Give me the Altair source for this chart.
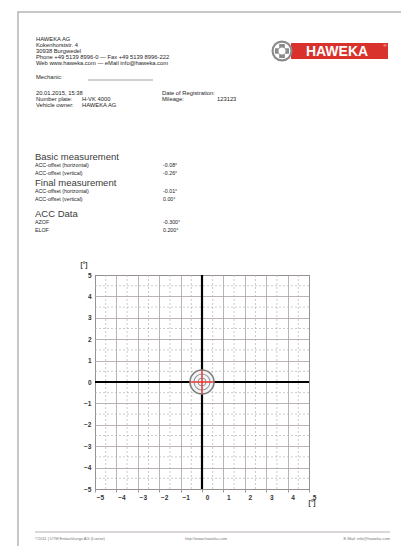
import altair as alt
import pandas as pd

# ---------------- data ----------------
tick_values = [-5, -4, -3, -2, -1, 0, 1, 2, 3, 4, 5]
half_values = [-4.5, -3.5, -2.5, -1.5, -0.5, 0.5, 1.5, 2.5, 3.5, 4.5]
target_x = [0.0]
target_y = [0.0]
cross_extent = [-0.55, 0.55]

company_lines = ["HAWEKA AG", "Kokenhorststr. 4", "30938 Burgwedel",
                 "Phone +49 5139 8996-0 \u2014 Fax +49 5139 8996-222",
                 "Web www.haweka.com \u2014 eMail info@haweka.com"]
vehicle_labels = ["20.01.2015, 15:38", "Number plate:", "Vehicle owner:"]
vehicle_values = ["", "H-VK 4000", "HAWEKA AG"]
reg_labels = ["Date of Registration:", "Mileage:"]
reg_values = ["", "123123"]
sections = ["Basic measurement", "Final measurement", "ACC Data"]
offset_labels = ["ACC-offset (horizontal)", "ACC-offset (vertical)"]
basic_values = ["-0.08\u00b0", "-0.26\u00b0"]
final_values = ["-0.01\u00b0", "0.00\u00b0"]
acc_labels = ["AZOF", "ELOF"]
acc_values = ["-0.300\u00b0", "0.200\u00b0"]
footer_texts = ["\u00a92011 | UTM Entwicklungs AG (Lizenz)", "http://www.haweka.com", "E-Mail: info@haweka.com"]

OX, OY = 95, 275  # plot origin on the page
FONT = "Liberation Sans"


def txt(s, x, y, size=5.5, color="#333333", weight="normal", align="left"):
    return alt.Chart(pd.DataFrame({"t": [s]})).mark_text(
        fontSize=size, color=color, fontWeight=weight, align=align,
        baseline="middle", font=FONT
    ).encode(x=alt.value(x - OX), y=alt.value(y - OY), text="t:N")


def deco_rect(x, y, x2, y2, **kw):
    return alt.Chart(pd.DataFrame({"a": [0]})).mark_rect(**kw).encode(
        x=alt.value(x - OX), x2=alt.value(x2 - OX),
        y=alt.value(y - OY), y2=alt.value(y2 - OY))


def deco_rule(x, y, x2, y2, **kw):
    return alt.Chart(pd.DataFrame({"a": [0]})).mark_rule(**kw).encode(
        x=alt.value(x - OX), x2=alt.value(x2 - OX),
        y=alt.value(y - OY), y2=alt.value(y2 - OY))


sx = alt.Scale(domain=[-5, 5], nice=False, zero=False)
sy = alt.Scale(domain=[-5, 5], nice=False, zero=False)

xaxis = alt.Axis(values=tick_values, grid=True, gridColor="#ab9f9f", gridWidth=0.8,
                 domain=False, ticks=True, tickSize=3, tickColor="#999999",
                 labelFontSize=6.5, labelColor="#333333", labelFont=FONT,
                 labelFontWeight="bold", labelOffset=5, labelPadding=2, title=None,
                 labelOverlap=False, labelFlush=False, labelBound=False, format="d")
yaxis = alt.Axis(values=tick_values, grid=True, gridColor="#ab9f9f", gridWidth=0.8,
                 domain=False, ticks=False, labelFontSize=6.5, labelColor="#333333",
                 labelFont=FONT, labelFontWeight="bold", labelPadding=4, title=None,
                 labelOverlap=False, labelFlush=False, labelBound=False, format="d")


def X(f):
    return alt.X(f, type="quantitative", scale=sx, axis=xaxis)


def Y(f):
    return alt.Y(f, type="quantitative", scale=sy, axis=yaxis)


half_df = pd.DataFrame({"v": half_values})
vhalf = alt.Chart(half_df).mark_rule(color="#b4b4b4", strokeWidth=0.7, strokeDash=[2, 2]).encode(x=X("v"))
hhalf = alt.Chart(half_df).mark_rule(color="#b4b4b4", strokeWidth=0.7, strokeDash=[2, 2]).encode(y=Y("v"))

zero_df = pd.DataFrame({"v": [0.0]})
vzero = alt.Chart(zero_df).mark_rule(color="#000000", strokeWidth=2.2).encode(x=X("v"))
hzero = alt.Chart(zero_df).mark_rule(color="#000000", strokeWidth=2.2).encode(y=Y("v"))

tgt_df = pd.DataFrame({"x": target_x, "y": target_y})
ring_fill = alt.Chart(tgt_df).mark_point(shape="circle", size=576, filled=True, color="#f4f4f4", opacity=1).encode(
    x=X("x"), y=Y("y"))
ring1 = alt.Chart(tgt_df).mark_point(shape="circle", size=576, filled=False, color="#7d7d7d", strokeWidth=1.6, opacity=1).encode(
    x=X("x"), y=Y("y"))
ring2 = alt.Chart(tgt_df).mark_point(shape="circle", size=256, filled=False, color="#8f98a8", strokeWidth=1.1, opacity=1).encode(
    x=X("x"), y=Y("y"))
ring3 = alt.Chart(tgt_df).mark_point(shape="circle", size=64, filled=False, color="#8f98a8", strokeWidth=1.0, opacity=1).encode(
    x=X("x"), y=Y("y"))

cross_h_df = pd.DataFrame({"x": [cross_extent[0]], "x2": [cross_extent[1]], "y": target_y})
cross_v_df = pd.DataFrame({"y": [cross_extent[0]], "y2": [cross_extent[1]], "x": target_x})
cross_h = alt.Chart(cross_h_df).mark_rule(color="#e8362d", strokeWidth=1.5).encode(
    x=X("x"), x2="x2:Q", y=Y("y"))
cross_v = alt.Chart(cross_v_df).mark_rule(color="#e8362d", strokeWidth=1.5).encode(
    y=Y("y"), y2="y2:Q", x=X("x"))

layers = [vhalf, hhalf, vzero, hzero, ring_fill, ring1, ring2, ring3, cross_h, cross_v]

# page frame
layers.append(deco_rect(18, 12, 404, 570, fill="#ffffff", fillOpacity=0, stroke="#b5b5b5", strokeWidth=1.5))

# header block
HC = "#1e1e1e"
for i, s in enumerate(company_lines):
    layers.append(txt(s, 36, 39 + i * 6, size=5.8, color=HC))
layers.append(txt("Mechanic:", 36, 77, size=5.8, color=HC))
layers.append(deco_rule(88, 80, 153, 80, color="#777777", strokeWidth=0.7))
for i, s in enumerate(vehicle_labels):
    layers.append(txt(s, 36, 93 + i * 6, size=5.8, color=HC))
    if vehicle_values[i]:
        layers.append(txt(vehicle_values[i], 82, 93 + i * 6, size=5.8, color=HC))
for i, s in enumerate(reg_labels):
    layers.append(txt(s, 162, 93 + i * 6, size=5.8, color=HC))
    if reg_values[i]:
        layers.append(txt(reg_values[i], 217, 93 + i * 6, size=5.8, color=HC))

# logo
layers.append(deco_rect(291, 43, 388, 59, fill="#d9312b"))
layers.append(txt("HAWEKA", 337, 51.5, size=14, color="#ffffff", weight="bold", align="center"))
layers.append(txt("\u00ae", 385, 46, size=4, color="#ffffff", align="center"))
logo_df = pd.DataFrame({"a": [0]})
layers.append(alt.Chart(logo_df).mark_point(shape="circle", size=440, filled=True, color="#8a8a8a", opacity=1).encode(
    x=alt.value(282 - OX), y=alt.value(51 - OY)))
layers.append(alt.Chart(logo_df).mark_point(shape="circle", size=280, filled=True, color="#ffffff", opacity=1).encode(
    x=alt.value(282 - OX), y=alt.value(51 - OY)))
layers.append(alt.Chart(logo_df).mark_point(shape="cross", size=200, filled=True, color="#8a8a8a", opacity=1).encode(
    x=alt.value(282 - OX), y=alt.value(51 - OY)))
layers.append(alt.Chart(logo_df).mark_point(shape="circle", size=50, filled=True, color="#ffffff", opacity=1).encode(
    x=alt.value(282 - OX), y=alt.value(51 - OY)))

# measurement sections
sec_y = [157, 183, 214]
for s, y in zip(sections, sec_y):
    layers.append(txt(s, 35, y, size=9.5, color="#3a3a3a"))
row_sets = [(offset_labels, basic_values), (offset_labels, final_values), (acc_labels, acc_values)]
for (labs, vals), y in zip(row_sets, sec_y):
    for j in range(2):
        layers.append(txt(labs[j], 35, y + 8 + j * 8, size=5.3, color=HC))
        layers.append(txt(vals[j], 163, y + 8 + j * 8, size=5.3, color=HC))

# axis unit titles
layers.append(txt("[\u00b0]", 84, 265, size=6.5, color="#333333", weight="bold", align="center"))
layers.append(txt("[\u00b0]", 312, 503, size=6.5, color="#333333", weight="bold", align="center"))

# footer
layers.append(deco_rule(35, 532, 390, 532, color="#a89c9c", strokeWidth=0.8))
layers.append(txt(footer_texts[0], 35, 539, size=4, color="#777777"))
layers.append(txt(footer_texts[1], 185, 539, size=4, color="#777777"))
layers.append(txt(footer_texts[2], 390, 539, size=4, color="#777777", align="right"))

chart = alt.layer(*layers).properties(
    width=214, height=214,
    padding={"left": 87, "top": 267, "right": 92, "bottom": 57},
    autosize=alt.AutoSizeParams(type="none"),
    background="#ffffff",
).configure_view(stroke="#555555", strokeWidth=1).configure_axis(labelOverlap=False)

chart.save("out.html", embed_options={"renderer": "svg", "actions": False})
